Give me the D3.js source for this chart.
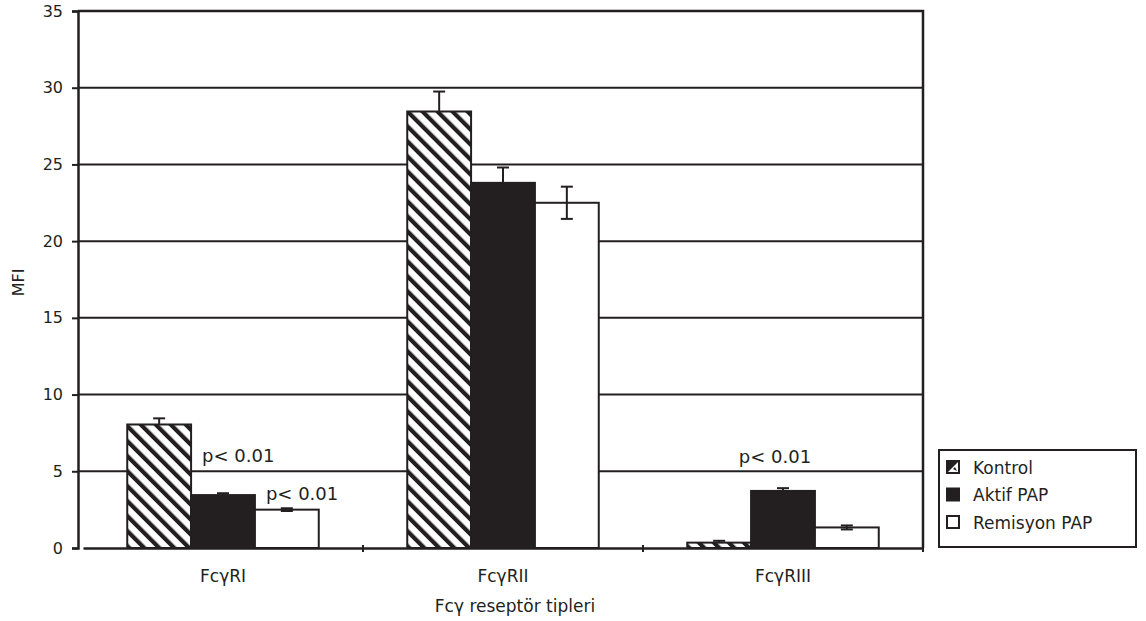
<!DOCTYPE html>
<html><head><meta charset="utf-8">
<script src="https://cdn.jsdelivr.net/npm/d3@7"></script>
<style>body{margin:0;background:#fff}svg{display:block}text{font-family:"DejaVu Sans",sans-serif;fill:#231f20}</style>
</head><body><svg id="c" width="1146" height="621"></svg>
<script>
const categories = ["FcγRI", "FcγRII", "FcγRIII"];
const series = ["Kontrol", "Aktif PAP", "Remisyon PAP"];
const kontrol = [8.05, 28.45, 0.35];
const kontrolErr = [0.4, 1.3, 0.12];
const aktif = [3.45, 23.8, 3.72];
const aktifErr = [0.12, 1.0, 0.18];
const remisyon = [2.5, 22.5, 1.34];
const remisyonErr = [0.09, 1.05, 0.13];
const yTicks = [0, 5, 10, 15, 20, 25, 30, 35];
const annotations = [
  {cat: 0, s: 1, value: 5.6, text: "p< 0.01", anchor: "start"},
  {cat: 0, s: 2, value: 3.1, text: "p< 0.01", anchor: "start"},
  {cat: 2, s: 1, value: 5.55, text: "p< 0.01", anchor: "middle"}
];
const values = [kontrol, aktif, remisyon];
const errs = [kontrolErr, aktifErr, remisyonErr];

const svg = d3.select("#c");
const L = 78, R = 923, T = 11, B = 548;
const x0 = d3.scaleBand().domain(categories).range([L + 5, R]).padding(0);
const bw = x0.bandwidth() * 0.228;
const x1 = d3.scaleBand().domain(series).range([-1.5 * bw, 1.5 * bw]).padding(0);
const y = d3.scaleLinear().domain([0, 35]).range([B, T]);

const defs = svg.append("defs");
const pat = defs.append("pattern").attr("id", "hatch").attr("patternUnits", "userSpaceOnUse")
  .attr("width", 10.6).attr("height", 10.6).attr("patternTransform", "rotate(-45)");
pat.append("rect").attr("width", 10.6).attr("height", 10.6).attr("fill", "#fff");
pat.append("rect").attr("x", 0).attr("width", 4.2).attr("height", 10.6).attr("fill", "#231f20");
const fills = ["url(#hatch)", "#231f20", "#fff"];
const ink = "#231f20";

// gridlines
svg.append("g").selectAll("line").data(yTicks.filter(d => d > 0 && d < 35)).join("line")
  .attr("x1", L).attr("x2", R).attr("y1", d => y(d)).attr("y2", d => y(d))
  .attr("stroke", ink).attr("stroke-width", 2);

// bars
const gcat = svg.append("g").selectAll("g").data(categories).join("g")
  .attr("transform", d => `translate(${x0(d) + x0.bandwidth() / 2},0)`);
series.forEach((s, si) => {
  gcat.append("rect")
    .attr("x", x1(s)).attr("width", x1.bandwidth())
    .attr("y", (d, i) => y(values[si][i])).attr("height", (d, i) => B - y(values[si][i]))
    .attr("fill", fills[si]).attr("stroke", ink).attr("stroke-width", 2);
});
// error bars
series.forEach((s, si) => {
  gcat.each(function(d, i) {
    const g = d3.select(this);
    const cx = x1(s) + x1.bandwidth() / 2;
    const v = values[si][i], e = errs[si][i];
    const lo = si === 2 ? v - e : v;
    g.append("line").attr("x1", cx).attr("x2", cx).attr("y1", y(v + e)).attr("y2", y(lo))
      .attr("stroke", ink).attr("stroke-width", 2);
    g.append("line").attr("x1", cx - 6).attr("x2", cx + 6).attr("y1", y(v + e)).attr("y2", y(v + e))
      .attr("stroke", ink).attr("stroke-width", 2);
    if (si === 2) g.append("line").attr("x1", cx - 6).attr("x2", cx + 6).attr("y1", y(v - e)).attr("y2", y(v - e))
      .attr("stroke", ink).attr("stroke-width", 2);
  });
});

// frame
svg.append("path").attr("d", `M${L},${T}H${R}V${B}`).attr("fill", "none").attr("stroke", ink).attr("stroke-width", 2.5);

// y axis
const ya = svg.append("g").attr("transform", `translate(${L},0)`)
  .call(d3.axisLeft(y).tickValues(yTicks).tickSize(6).tickPadding(9));
ya.select(".domain").attr("stroke", ink).attr("stroke-width", 2.5);
ya.selectAll(".tick line").attr("stroke", ink).attr("stroke-width", 2);
ya.selectAll(".tick text").attr("font-size", 16).attr("fill", ink).attr("font-family", "DejaVu Sans");

// x axis
const xa = svg.append("g").attr("transform", `translate(0,${B})`)
  .call(d3.axisBottom(x0).tickSize(0).tickPadding(22));
xa.select(".domain").attr("stroke", ink).attr("stroke-width", 2.5);
xa.selectAll(".tick text").attr("font-size", 17).attr("fill", ink).attr("font-family", "DejaVu Sans");
svg.append("g").selectAll("line").data(categories.slice(1).map(c => x0(c)).concat([R])).join("line")
  .attr("x1", d => d).attr("x2", d => d).attr("y1", B - 3).attr("y2", B + 4)
  .attr("stroke", ink).attr("stroke-width", 2);

// annotations
svg.append("g").selectAll("text").data(annotations).join("text")
  .attr("x", d => {
    const base = x0(categories[d.cat]) + x0.bandwidth() / 2 + x1(series[d.s]);
    return d.anchor === "middle" ? base + x1.bandwidth() / 2 - 8 : base + 11;
  })
  .attr("y", d => y(d.value)).attr("text-anchor", d => d.anchor)
  .attr("font-size", 18).text(d => d.text);

// axis titles
svg.append("text").attr("x", 515).attr("y", 612).attr("text-anchor", "middle")
  .attr("font-size", 17).text("Fcγ reseptör tipleri");
svg.append("text").attr("transform", `translate(24,${(T + B) / 2 + 3}) rotate(-90)`).attr("text-anchor", "middle")
  .attr("font-size", 16).text("MFI");

// legend
const lg = svg.append("g").attr("transform", "translate(939,450)");
lg.append("rect").attr("width", 197).attr("height", 97).attr("fill", "#fff").attr("stroke", ink).attr("stroke-width", 2);
series.forEach((s, i) => {
  const yy = 17 + i * 27.5;
  const g = lg.append("g").attr("transform", `translate(8,${yy - 6})`);
  if (i === 0) {
    g.append("rect").attr("width", 12).attr("height", 12).attr("fill", "#fff").attr("stroke", ink).attr("stroke-width", 2);
    g.append("path").attr("d", "M0,0H12L8.5,3.5L3.5,8.5L0,12Z").attr("fill", ink);
    g.append("path").attr("d", "M6,8L8,6L10,10Z").attr("fill", ink);
  } else {
    g.append("rect").attr("width", 12).attr("height", 12).attr("fill", fills[i]).attr("stroke", ink).attr("stroke-width", 2);
  }
  lg.append("text").attr("x", 34).attr("y", yy + 6.5).attr("font-size", 17).text(s);
});
</script></body></html>
